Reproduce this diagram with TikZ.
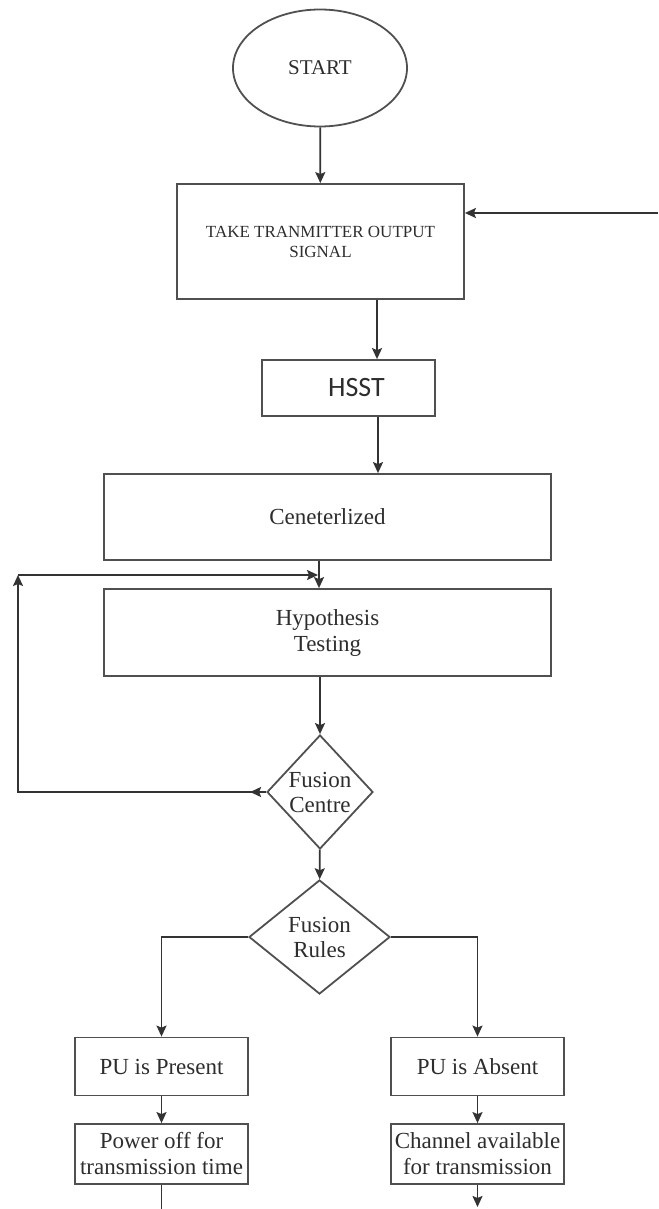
\documentclass[tikz,border=0pt]{standalone}
\usepackage{fontspec}
\setmainfont{Liberation Serif}
\newfontfamily\hsstfont{Carlito}
\usetikzlibrary{shapes.geometric, arrows.meta, positioning}
\definecolor{linegray}{RGB}{80,80,80}
\definecolor{textgray}{RGB}{45,45,45}
\tikzstyle{startstop} = [ellipse, minimum width=174pt, minimum height=117pt, text centered, draw=linegray, line width=1.8pt, text=textgray, font=\fontsize{21}{25}\selectfont]
\tikzstyle{process} = [rectangle, inner sep=0pt, text centered, align=center, draw=linegray, line width=1.8pt, text=textgray, font=\fontsize{23}{26}\selectfont]
\tikzstyle{decision} = [diamond, inner sep=0pt, text centered, align=center, draw=linegray, line width=1.8pt, text=textgray, font=\fontsize{23}{25}\selectfont]
\tikzstyle{arrow} = [line width=1.8pt, draw=black!80, ->, >={Stealth[length=11pt, width=10pt, inset=2pt]}]
\tikzstyle{line} = [line width=1.8pt, draw=black!80]

\begin{document}
\begin{tikzpicture}[x=1pt, y=-1pt]
		\useasboundingbox (0,0) rectangle (658,1209);
		
		% Nodes
		\node (start) [startstop] at (320,68) {START};
		\node (take) [process, minimum width=287pt, minimum height=115pt, font=\fontsize{17}{20}\selectfont] at (320.5,241.5) {TAKE TRANMITTER OUTPUT\\SIGNAL};
		\node (hsst) [process, minimum width=173pt, minimum height=56pt, font=\hsstfont\fontsize{28}{30}\selectfont] at (348.5,388) {\hspace*{16pt}HSST};
		\node (cent) [process, minimum width=447pt, minimum height=86pt] at (327.5,517) {Ceneterlized};
		\node (hyp) [process, minimum width=447pt, minimum height=87pt] at (327.5,632.5) {Hypothesis\\Testing};
		\node (fc) [decision, minimum width=106pt, minimum height=114pt] at (320,792) {Fusion\\Centre};
		\node (fr) [decision, minimum width=141pt, minimum height=114pt] at (319.5,937) {Fusion\\Rules};
		\node (pup) [process, minimum width=173pt, minimum height=58pt] at (161.5,1066.5) {PU is Present};
		\node (pua) [process, minimum width=173pt, minimum height=58pt] at (477.5,1066.5) {PU is Absent};
		\node (poff) [process, minimum width=173pt, minimum height=60pt] at (161.5,1154) {Power off for\\transmission time};
		\node (chan) [process, minimum width=173pt, minimum height=60pt] at (477.5,1154) {Channel available\\for transmission};
		
		% Free ends
		\coordinate (feed) at (658,213);
		\coordinate (lc) at (18,575);
		\coordinate (le) at (318,575);
		\coordinate (offend) at (161.5,1209);
		\coordinate (chanend) at (477.5,1207);
		
		% Arrows
		\draw [arrow] (start) -- (take);
		\draw [arrow] (feed) -- (feed -| take.east);
		\draw [arrow] (take.south -| 377,0) -- (hsst.north -| 377,0);
		\draw [arrow] (hsst.south -| 378,0) -- (cent.north -| 378,0);
		\draw [arrow] (cent.south -| 319,0) -- (hyp.north -| 319,0);
		\draw [arrow] (hyp.south -| fc.north) -- (fc.north);
		\draw [arrow] (fc.west) -- ++(-16,0);
		\draw [arrow] (fc.west) -| (lc);
		\draw [arrow] (lc) -- (le);
		\draw [arrow] (fc) -- (fr);
		\draw [arrow] (fr.west) -| (pup.north);
		\draw [arrow] (fr.east) -| (pua.north);
		\draw [arrow] (pup) -- (poff);
		\draw [arrow] (pua) -- (chan);
		\draw [line] (poff) -- (offend);
		\draw [arrow] (chan) -- (chanend);
		
	\end{tikzpicture}
\end{document}
